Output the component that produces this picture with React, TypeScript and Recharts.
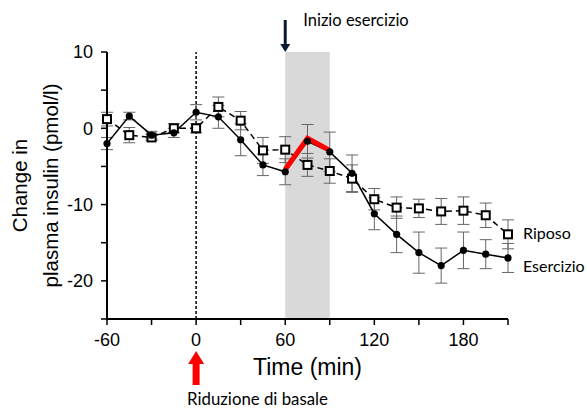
import {
  ComposedChart, Line, XAxis, YAxis, ErrorBar,
  ReferenceArea, ReferenceLine
} from 'recharts';

// minutes relative to basal reduction
const times = [-60, -45, -30, -15, 0, 15, 30, 45, 60, 75, 90, 105, 120, 135, 150, 165, 180, 195, 210];
const esercizio = [-2.0, 1.6, -0.9, -0.6, 2.1, 1.5, -1.5, -4.8, -5.7, -1.7, -3.1, -5.9, -11.2, -13.9, -16.3, -18.0, -16.0, -16.5, -17.0];
const esercizioErr = [0.8, 0.5, 0.5, 0.6, 1.0, 1.5, 2.1, 1.4, 1.7, 2.2, 2.6, 2.4, 2.1, 2.4, 2.7, 2.3, 2.4, 1.9, 1.9];
const riposo = [1.2, -0.9, -1.2, 0.0, 0.0, 2.8, 1.0, -2.9, -2.8, -4.8, -5.6, -6.6, -9.3, -10.4, -10.5, -10.9, -10.8, -11.4, -13.9];
const riposoErr = [0.9, 1.0, 0.4, 0.6, 0.6, 1.3, 1.2, 1.7, 1.7, 1.5, 1.6, 1.8, 1.4, 1.4, 1.2, 1.7, 1.8, 1.6, 1.9];
// red highlight over the exercise window
const highlightTimes = [60, 75, 90];
const highlight = [-5.4, -1.3, -2.9];

const exerciseBand = [60, 90];
const xTicks = [-60, -30, 0, 30, 60, 90, 120, 150, 180, 210];
const yTicks = [-25, -20, -15, -10, -5, 0, 5, 10];

const data = times.map((t, i) => ({
  t,
  e: esercizio[i],
  eErr: esercizioErr[i],
  r: riposo[i],
  rErr: riposoErr[i],
  h: highlightTimes.includes(t) ? highlight[highlightTimes.indexOf(t)] : null,
}));

const last = times.length - 1;
const noteFont = 'Lato, "Open Sans", sans-serif';

const SquareDot = (p: any) => {
  const { cx, cy, index } = p;
  return (
    <g key={`sq-${index}`}>
      <rect x={cx - 4} y={cy - 4} width={8} height={8} fill="#fff" stroke="#000" strokeWidth={2} />
      {index === last && (
        <text x={cx + 15} y={cy + 5} fontSize={16} fontFamily={noteFont} fill="#000">Riposo</text>
      )}
    </g>
  );
};

const CircleDot = (p: any) => {
  const { cx, cy, index } = p;
  return (
    <g key={`ci-${index}`}>
      <circle cx={cx} cy={cy} r={3.6} fill="#000" />
      {index === last && (
        <text x={cx + 15} y={cy + 14} fontSize={16} fontFamily={noteFont} fill="#000">Esercizio</text>
      )}
    </g>
  );
};

const StartArrow = (p: any) => {
  const { x, y } = p.viewBox;
  return (
    <g>
      <line x1={x} y1={y - 32} x2={x} y2={y - 6} stroke="#0b1a2e" strokeWidth={3} />
      <path d={`M${x - 5},${y - 8} L${x + 5},${y - 8} L${x},${y} Z`} fill="#0b1a2e" />
      <text x={x + 18} y={y - 26} fontSize={16.5} fontFamily={noteFont} fill="#000">Inizio esercizio</text>
    </g>
  );
};

const BasalArrow = (p: any) => {
  const { x, y, height } = p.viewBox;
  const b = y + height;
  return (
    <g>
      <path
        d={`M${x},${b + 32} L${x + 8},${b + 45} L${x + 3.5},${b + 45} L${x + 3.5},${b + 66} L${x - 3.5},${b + 66} L${x - 3.5},${b + 45} L${x - 8},${b + 45} Z`}
        fill="#ff0000"
      />
      <text x={x - 9} y={b + 86} fontSize={16.8} fontFamily={noteFont} fill="#000">Riduzione di basale</text>
    </g>
  );
};

const YLabel = (p: any) => {
  const { y, height } = p.viewBox;
  const cy = y + height / 2;
  return (
    <g fontSize={20.5} fill="#000" textAnchor="middle">
      <text x={20} y={cy} transform={`rotate(-90 20 ${cy})`} dy="0.36em">Change in</text>
      <text x={51} y={cy} transform={`rotate(-90 51 ${cy})`} dy="0.36em">plasma insulin (pmol/l)</text>
    </g>
  );
};

export default function App() {
  return (
    <div style={{ position: 'absolute', left: 0, top: 0, background: '#fff' }}>
      <ComposedChart
        width={587}
        height={410}
        data={data}
        margin={{ top: 52, right: 79, bottom: 61, left: 47 }}
        style={{ fontFamily: '"Liberation Sans", Arial, sans-serif' }}
      >
        <ReferenceArea x1={exerciseBand[0]} x2={exerciseBand[1]} y1={-25} y2={10} fill="#d9d9d9" fillOpacity={1} stroke="none" />
        <ReferenceLine x={0} stroke="#000" strokeWidth={1.5} strokeDasharray="3 2" />
        <ReferenceLine x={60} stroke="none" label={<StartArrow />} />
        <ReferenceLine x={0} stroke="none" label={<BasalArrow />} />
        <XAxis
          type="number"
          dataKey="t"
          domain={[-60, 210]}
          ticks={xTicks}
          tickFormatter={(v: number) => (v % 60 === 0 ? String(v) : '')}
          axisLine={{ stroke: '#000', strokeWidth: 2 }}
          tickLine={{ stroke: '#000', strokeWidth: 1.5 }}
          tickSize={6}
          tickMargin={8}
          tick={{ fill: '#000', fontSize: 18 }}
          label={{ value: 'Time (min)', position: 'bottom', offset: 10, fill: '#000', fontSize: 23 }}
        />
        <YAxis
          type="number"
          domain={[-25, 10]}
          ticks={yTicks}
          width={60}
          tickFormatter={(v: number) => (v % 10 === 0 ? String(v) : '')}
          axisLine={{ stroke: '#000', strokeWidth: 2 }}
          tickLine={{ stroke: '#000', strokeWidth: 1.5 }}
          tickSize={6}
          tickMargin={8}
          tick={{ fill: '#000', fontSize: 18 }}
          label={<YLabel />}
        />
        <Line
          dataKey="r"
          stroke="#000"
          strokeWidth={1.5}
          strokeDasharray="6 4"
          dot={SquareDot}
          isAnimationActive={false}
        >
          <ErrorBar dataKey="rErr" width={6} stroke="#666" strokeWidth={1} direction="y" />
        </Line>
        <Line
          dataKey="e"
          stroke="#000"
          strokeWidth={1.5}
          dot={CircleDot}
          isAnimationActive={false}
        >
          <ErrorBar dataKey="eErr" width={6} stroke="#666" strokeWidth={1} direction="y" />
        </Line>
        <Line
          dataKey="h"
          stroke="#ff0000"
          strokeWidth={5}
          dot={false}
          connectNulls={false}
          isAnimationActive={false}
        />
      </ComposedChart>
    </div>
  );
}
